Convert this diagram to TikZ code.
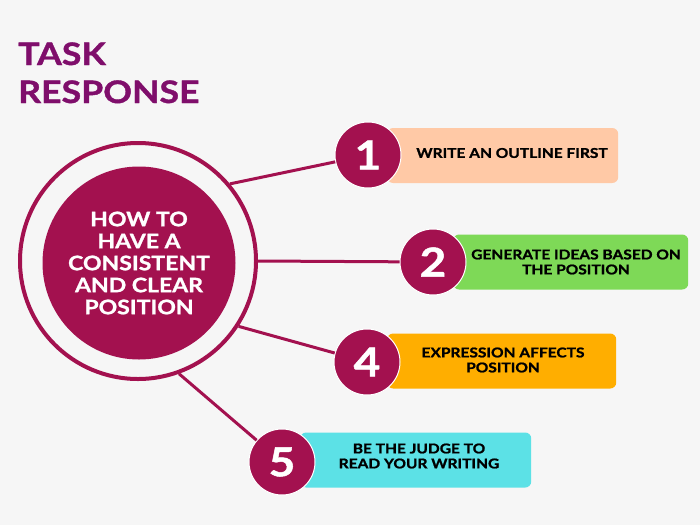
\documentclass[tikz,border=0pt]{standalone}
\usepackage{fontspec}
\setmainfont{Lato}[FakeStretch=1.15, BoldFeatures={FakeBold=1.2}]
\definecolor{bgc}{HTML}{F6F6F6}
\definecolor{mag}{HTML}{A3114F}
\definecolor{ttl}{HTML}{7F0E6B}
\definecolor{peach}{HTML}{FFC9A6}
\definecolor{grn}{HTML}{7ED957}
\definecolor{org}{HTML}{FFAE00}
\definecolor{cyn}{HTML}{5CE1E6}
\tikzset{
  titletext/.style={anchor=base west, text=ttl, inner sep=0pt, font=\fontsize{31}{36}\selectfont\bfseries},
  bar/.style={rounded corners=6pt, minimum width=231pt, minimum height=55pt, anchor=west, inner sep=0pt},
  badge/.style={circle, fill=mag, draw=white, line width=1pt, minimum size=66pt, inner sep=0pt, text=white, font=\fontsize{40}{40}\selectfont\bfseries},
  lbl/.style={align=center, inner sep=0pt, font=\fontsize{13.5}{15}\selectfont\bfseries},
  conn/.style={draw=mag, line width=3pt}
}
\begin{document}
\begin{tikzpicture}[x=1pt,y=-1pt]
\fill[bgc] (0,0) rectangle (700,525);
\useasboundingbox (0,0) rectangle (700,525);
\node[titletext] (t1) at (18,65) {TASK};
\node[titletext] (t2) at (18,103) {RESPONSE};
\node[circle, draw=mag, line width=4pt, minimum size=236pt, inner sep=0pt] (ring) at (138,261) {};
\node[circle, fill=mag, minimum size=193pt, inner sep=0pt, text=white, align=center,
  font=\fontsize{20}{22}\selectfont\bfseries] (hub) at (139,263) {HOW TO\\HAVE A\\CONSISTENT\\AND CLEAR\\POSITION};
% bars
\node[bar, fill=peach] (r1) at (387,155.5) {};
\node[bar, fill=grn, minimum width=235pt] (r2) at (453,262) {};
\node[bar, fill=org, minimum width=229pt] (r4) at (387,361) {};
\node[bar, fill=cyn] (r5) at (300,460) {};
% labels
\node[lbl] (l1) at (512,153) {WRITE AN OUTLINE FIRST};
\node[lbl] (l2) at (576,262) {GENERATE IDEAS BASED ON\\THE POSITION};
\node[lbl] (l4) at (503,360) {EXPRESSION AFFECTS\\POSITION};
\node[lbl] (l5) at (419,456) {BE THE JUDGE TO\\READ YOUR WRITING};
% badges
\node[badge] (b1) at (368,155) {1};
\node[badge] (b2) at (433,262) {2};
\node[badge] (b4) at (367,362) {4};
\node[badge] (b5) at (282,462) {5};
% connectors
\draw[conn] (ring.40) -- (b1);
\draw[conn] (ring.0) -- (b2);
\draw[conn] (ring.-33) -- (b4);
\draw[conn] (ring.-70) -- (b5);
\end{tikzpicture}
\end{document}
